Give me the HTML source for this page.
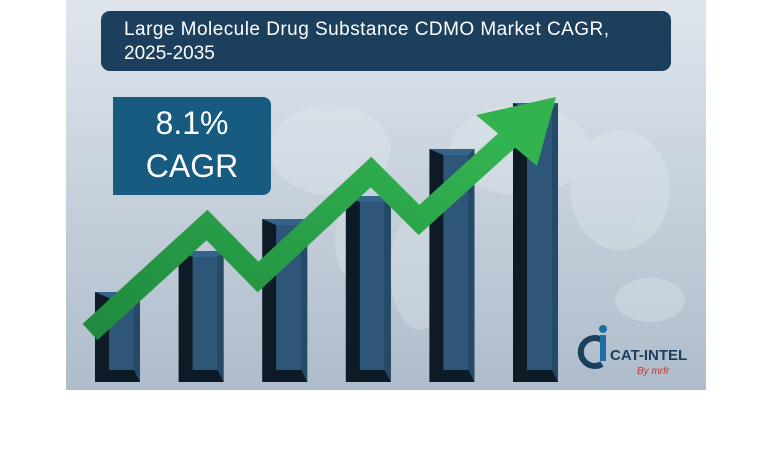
<!DOCTYPE html>
<html><head><meta charset="utf-8"><style>
body{margin:0;width:764px;height:468px;background:#fff;overflow:hidden;font-family:"Liberation Sans",sans-serif}
svg{position:absolute;left:0;top:0}
</style></head><body>
<svg width="764" height="468">
<defs>
<linearGradient id="bg" x1="0" y1="0" x2="0" y2="1"><stop offset="0" stop-color="#dfe5ec"/><stop offset="1" stop-color="#aebccb"/></linearGradient>
<linearGradient id="gr" x1="0" y1="1" x2="1" y2="0"><stop offset="0" stop-color="#1f8a3e"/><stop offset="1" stop-color="#34b552"/></linearGradient>
</defs>
<rect x="66" y="0" width="640" height="390" fill="url(#bg)"/>
<g fill="#e8edf2" opacity="0.3">
<ellipse cx="330" cy="150" rx="60" ry="45"/><ellipse cx="420" cy="270" rx="30" ry="60"/><ellipse cx="520" cy="150" rx="70" ry="45"/><ellipse cx="620" cy="190" rx="50" ry="60"/><ellipse cx="650" cy="300" rx="35" ry="22"/><ellipse cx="360" cy="240" rx="25" ry="45"/>
</g>
<g id="bars"></g>
<g id="arrow"></g>
<rect x="101" y="11" width="570" height="60" rx="9" fill="#1c3f5e"/>
<text x="124" y="35" fill="#fff" font-size="19" textLength="485">Large Molecule Drug Substance CDMO  Market CAGR,</text>
<text x="124" y="59" fill="#fff" font-size="19">2025-2035</text>
<path d="M113 97 H263 a8 8 0 0 1 8 8 V187 a8 8 0 0 1 -8 8 H113 Z" fill="#175c80"/>
<text x="192" y="134" fill="#fff" font-size="32" text-anchor="middle">8.1%</text>
<text x="192" y="177" fill="#fff" font-size="32" text-anchor="middle">CAGR</text>
<g>
<path d="M602 340 a14 14 0 1 0 0 24" fill="none" stroke="#1c3f5e" stroke-width="6"/>
<circle cx="603" cy="329" r="4" fill="#1c6fa0"/>
<rect x="600" y="335" width="6" height="26" fill="#1c6fa0"/>
<text x="610" y="360" fill="#1c3f5e" font-size="15" font-weight="bold">CAT-INTEL</text>
<text x="637" y="374" fill="#c0392b" font-size="10" font-style="italic">By mrfr</text>
</g>
</svg>
<script>
const categories=["2025","2027","2029","2031","2033","2035"];
const barValues=[90,131,163,186,233,279];
const arrowX=[90,207,258,371,419,515];
const arrowY=[332,225,277,172,220,133];
const NS="http://www.w3.org/2000/svg";
const base=382,barW=45,x0=95,step=83.6;
const xs=i=>x0+i*step, ys=v=>base-v;
const gb=document.getElementById('bars');
barValues.forEach((v,i)=>{
 const x=xs(i),t=ys(v);
 const g=document.createElementNS(NS,'g');
 
 
 g.innerHTML=`<rect x="${x}" y="${t}" width="${barW}" height="${base-t}" fill="#0d1b27"/>
 <polygon points="${x},${t} ${x+barW},${t} ${x+barW-6},${t+6} ${x+14},${t+6}" fill="#35648a"/>
 <rect x="${x+14}" y="${t+6}" width="${barW-20}" height="${base-t-18}" fill="#2d5678"/>
 <polygon points="${x+barW},${t} ${x+barW},${base} ${x+barW-6},${base-12} ${x+barW-6},${t+6}" fill="#244a68"/>`;
 gb.appendChild(g);
});
const ga=document.getElementById('arrow');
const pl=document.createElementNS(NS,'polyline');
pl.setAttribute('points',arrowX.map((x,i)=>x+','+arrowY[i]).join(' '));
pl.setAttribute('fill','none');pl.setAttribute('stroke','url(#gr)');pl.setAttribute('stroke-width','22');pl.setAttribute('stroke-linejoin','miter');


ga.appendChild(pl);
const hd=document.createElementNS(NS,'polygon');
hd.setAttribute('points','476,115 556,97 537,166');
hd.setAttribute('fill','#33b250');


ga.appendChild(hd);
</script>
</body></html>
